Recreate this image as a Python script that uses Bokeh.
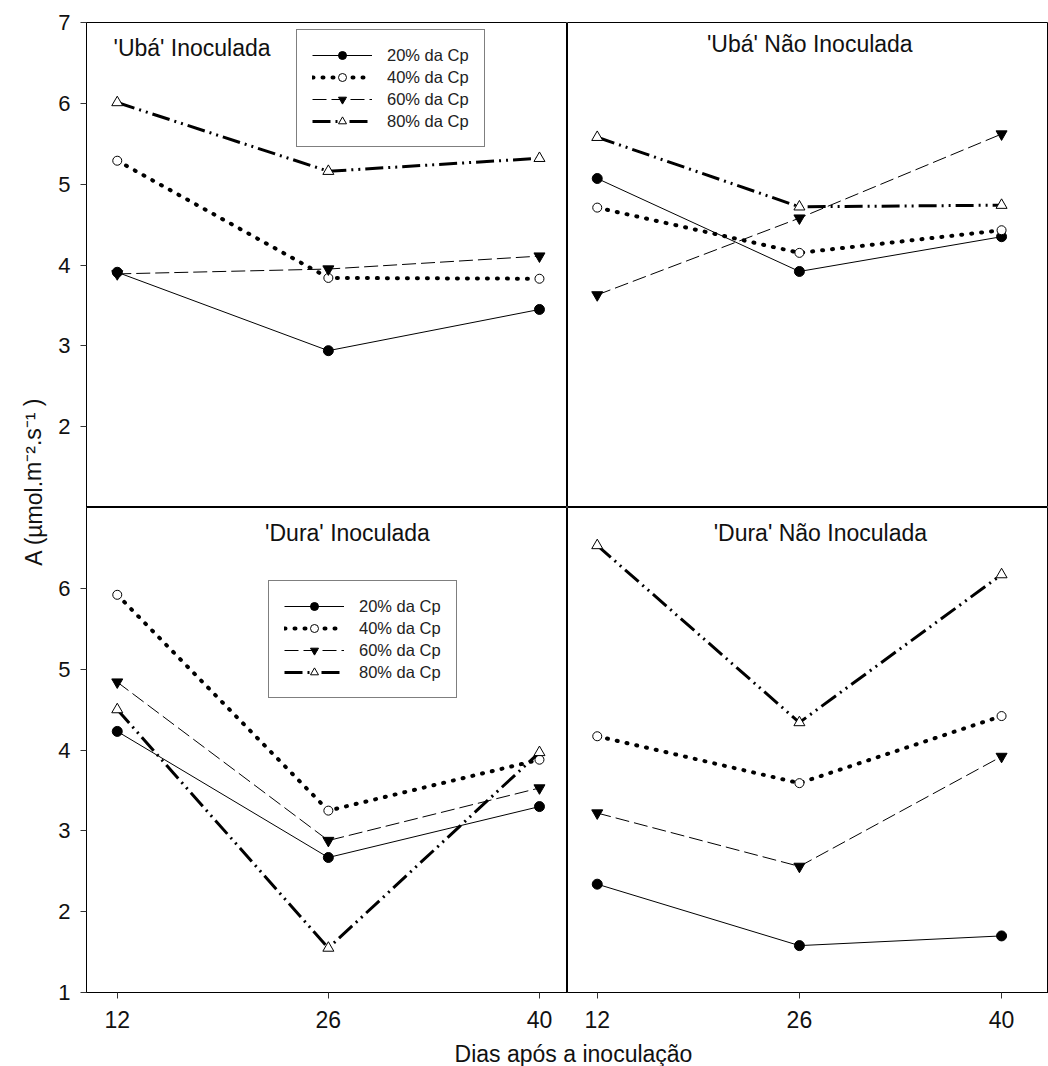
from bokeh.plotting import figure
from bokeh.layouts import row, column
from bokeh.models import Range1d, FixedTicker, Legend, LegendItem, Label
from bokeh.embed import file_html
from bokeh.resources import INLINE

FONT = "Liberation Sans"

days = [12, 26, 40]
series_labels = ["20% da Cp", "40% da Cp", "60% da Cp", "80% da Cp"]
panel_titles = ["'Ubá' Inoculada", "'Ubá' Não Inoculada", "'Dura' Inoculada", "'Dura' Não Inoculada"]
y_label = "A (µmol.m⁻².s⁻¹ )"
x_label = "Dias após a inoculação"

uba_inoc_20 = [3.91, 2.94, 3.45]
uba_inoc_40 = [5.29, 3.84, 3.83]
uba_inoc_60 = [3.89, 3.95, 4.11]
uba_inoc_80 = [6.01, 5.16, 5.32]

uba_nao_20 = [5.07, 3.92, 4.35]
uba_nao_40 = [4.71, 4.15, 4.43]
uba_nao_60 = [3.63, 4.58, 5.62]
uba_nao_80 = [5.58, 4.72, 4.74]

dura_inoc_20 = [4.23, 2.67, 3.30]
dura_inoc_40 = [5.92, 3.25, 3.88]
dura_inoc_60 = [4.84, 2.88, 3.53]
dura_inoc_80 = [4.50, 1.55, 3.97]

dura_nao_20 = [2.34, 1.58, 1.70]
dura_nao_40 = [4.17, 3.59, 4.42]
dura_nao_60 = [3.22, 2.56, 3.92]
dura_nao_80 = [6.53, 4.34, 6.17]

panel_data = [
    [uba_inoc_20, uba_inoc_40, uba_inoc_60, uba_inoc_80],
    [uba_nao_20, uba_nao_40, uba_nao_60, uba_nao_80],
    [dura_inoc_20, dura_inoc_40, dura_inoc_60, dura_inoc_80],
    [dura_nao_20, dura_nao_40, dura_nao_60, dura_nao_80],
]

styles = [
    dict(line_width=1, line_dash="solid", line_cap="butt", marker="circle", fill="black", size=10),
    dict(line_width=4, line_dash="1 9", line_cap="round", marker="circle", fill="white", size=9),
    dict(line_width=1, line_dash="14 5", line_cap="butt", marker="inverted_triangle", fill="black", size=11),
    dict(line_width=3, line_dash="18 5 2 5 2 5", line_cap="butt", marker="triangle", fill="white", size=11),
]


def make_panel(idx, width, height, x_range, left_axis, bottom_axis, mb_left, mb_top, mb_bottom,
               title_pos, title_align, legend_loc):
    p = figure(width=width, height=height, output_backend="svg", toolbar_location=None,
               x_range=Range1d(*x_range), y_range=Range1d(1, 7),
               x_axis_location="below" if bottom_axis else None,
               y_axis_location="left" if left_axis else None,
               min_border_left=mb_left, min_border_right=0, min_border_top=mb_top,
               min_border_bottom=mb_bottom)
    p.xgrid.visible = False
    p.ygrid.visible = False
    p.outline_line_color = "black"
    p.outline_line_width = 1
    p.outline_line_alpha = 1
    p.background_fill_color = "white"
    p.border_fill_color = "white"

    if left_axis:
        ax = p.yaxis[0]
        ax.ticker = FixedTicker(ticks=[2, 3, 4, 5, 6, 7] if idx == 0 else [1, 2, 3, 4, 5, 6])
        ax.minor_tick_line_color = None
        ax.major_tick_out = 6
        ax.major_tick_in = 0
        ax.major_label_standoff = 10
        ax.major_label_text_font = FONT
        ax.major_label_text_font_size = "22px"
        ax.major_label_text_color = "#111111"
        ax.axis_line_color = "black"
        ax.major_tick_line_color = "#333333"
    if bottom_axis:
        ax = p.xaxis[0]
        ax.ticker = FixedTicker(ticks=days)
        ax.minor_tick_line_color = None
        ax.major_tick_out = 6
        ax.major_tick_in = 0
        ax.major_label_standoff = 12
        ax.major_label_text_font = FONT
        ax.major_label_text_font_size = "23px"
        ax.major_label_text_color = "#111111"
        ax.axis_line_color = "black"
        ax.major_tick_line_color = "#333333"

    items = []
    for s, vals, lab in zip(styles, panel_data[idx], series_labels):
        lr = p.line(days, vals, line_color="black", line_width=s["line_width"],
                    line_dash=s["line_dash"], line_cap=s["line_cap"])
        sr = p.scatter(days, vals, marker=s["marker"], size=s["size"], fill_color=s["fill"],
                       line_color="black", line_width=1)
        items.append(LegendItem(label=lab, renderers=[lr, sr]))

    if legend_loc is not None:
        leg = Legend(items=items, location=legend_loc, glyph_width=60, glyph_height=20,
                     label_height=20, spacing=2, padding=15, label_standoff=15,
                     label_text_font=FONT, label_text_font_size="16.5px",
                     label_text_color="#222222", border_line_color="black",
                     border_line_width=1, background_fill_color="white",
                     background_fill_alpha=1)
        p.add_layout(leg, "center")

    p.add_layout(Label(x=title_pos[0], y=title_pos[1], text=panel_titles[idx],
                       text_font=FONT, text_font_size="23px", text_color="#111111",
                       text_align=title_align, text_baseline="middle"))
    return p


LEFT_STRIP = 48
LX = (9.96, 41.86)
RX = (9.94, 43.25)

tl = make_panel(0, 519, 507, LX, True, False, 38, 22, 0, (11.75, 6.69), "left", (210, 360))
tr = make_panel(1, 481, 507, RX, False, False, 0, 22, 0, (26.72, 6.74), "center", None)
bl = make_panel(2, 519, 533, LX, True, True, 38, 0, 48, (27.27, 6.68), "center", (182, 294))
br = make_panel(3, 481, 533, RX, False, True, 0, 0, 48, (27.45, 6.68), "center", None)


def strip(width, height):
    s = figure(width=width, height=height, output_backend="svg", toolbar_location=None,
               x_range=Range1d(0, width), y_range=Range1d(0, height),
               x_axis_location=None, y_axis_location=None,
               min_border_left=0, min_border_right=0, min_border_top=0, min_border_bottom=0)
    s.xgrid.visible = False
    s.ygrid.visible = False
    s.outline_line_color = None
    s.background_fill_color = "white"
    s.border_fill_color = "white"
    return s


ystrip = strip(LEFT_STRIP, 1066)
ystrip.add_layout(Label(x=33, y=1066 - 481, text=y_label, angle=1.5708,
                        text_font=FONT, text_font_size="23px", text_color="#111111",
                        text_align="center", text_baseline="middle"))

xstrip = strip(1000, 26)
xstrip.add_layout(Label(x=573 - LEFT_STRIP, y=13, text=x_label,
                        text_font=FONT, text_font_size="23px", text_color="#111111",
                        text_align="center", text_baseline="middle"))

layout = row(ystrip, column(row(tl, tr), row(bl, br), xstrip))

open("out.html", "w").write(file_html(layout, INLINE))
